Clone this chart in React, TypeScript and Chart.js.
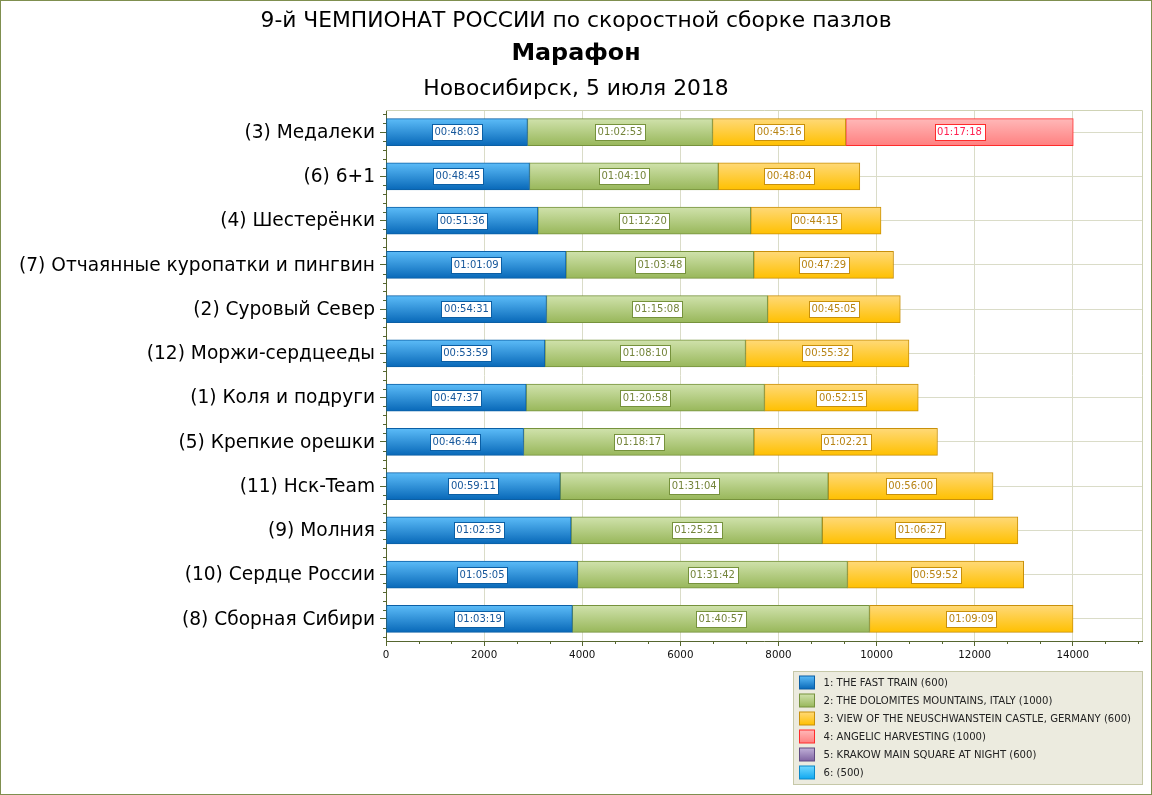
import { useEffect, useRef } from "react";
import { Chart, registerables } from "chart.js";

Chart.register(...registerables);

const FONT = "'DejaVu Sans', sans-serif";

const titleLines = [
  "9-й ЧЕМПИОНАТ РОССИИ по скоростной сборке пазлов",
  "Марафон",
  "Новосибирск, 5 июля 2018",
];

const teams = [
  "(3) Медалеки",
  "(6) 6+1",
  "(4) Шестерёнки",
  "(7) Отчаянные куропатки и пингвин",
  "(2) Суровый Север",
  "(12) Моржи-сердцееды",
  "(1) Коля и подруги",
  "(5) Крепкие орешки",
  "(11) Нск-Team",
  "(9) Молния",
  "(10) Сердце России",
  "(8) Сборная Сибири",
];

const seriesNames = [
  "1: THE FAST TRAIN (600)",
  "2: THE DOLOMITES MOUNTAINS, ITALY (1000)",
  "3: VIEW OF THE NEUSCHWANSTEIN CASTLE, GERMANY (600)",
  "4: ANGELIC HARVESTING (1000)",
  "5: KRAKOW MAIN SQUARE AT NIGHT (600)",
  "6: (500)",
];

const stage1Times = ["00:48:03", "00:48:45", "00:51:36", "01:01:09", "00:54:31", "00:53:59", "00:47:37", "00:46:44", "00:59:11", "01:02:53", "01:05:05", "01:03:19"];
const stage2Times = ["01:02:53", "01:04:10", "01:12:20", "01:03:48", "01:15:08", "01:08:10", "01:20:58", "01:18:17", "01:31:04", "01:25:21", "01:31:42", "01:40:57"];
const stage3Times = ["00:45:16", "00:48:04", "00:44:15", "00:47:29", "00:45:05", "00:55:32", "00:52:15", "01:02:21", "00:56:00", "01:06:27", "00:59:52", "01:09:09"];
const stage4Times = ["01:17:18", null, null, null, null, null, null, null, null, null, null, null];
const stage5Times: (string | null)[] = [null, null, null, null, null, null, null, null, null, null, null, null];
const stage6Times: (string | null)[] = [null, null, null, null, null, null, null, null, null, null, null, null];

const xMax = 15411;
const xTickValues = [0, 2000, 4000, 6000, 8000, 10000, 12000, 14000];
const xMinorPerMajor = 3;

const stageTimes = [stage1Times, stage2Times, stage3Times, stage4Times, stage5Times, stage6Times];

const styles = [
  { top: "#5cbcf8", bottom: "#0868b8", border: "#0b5fa5", text: "#15569a" },
  { top: "#d0e2ac", bottom: "#98b75a", border: "#76923c", text: "#74843a" },
  { top: "#ffd978", bottom: "#ffc000", border: "#c8900a", text: "#b88414" },
  { top: "#ffb8b8", bottom: "#ff8080", border: "#ff2b2b", text: "#ff2050" },
  { top: "#c0b0d8", bottom: "#8064a2", border: "#604a80", text: "#604a80" },
  { top: "#70d8ff", bottom: "#10a8f0", border: "#0a88c8", text: "#0a88c8" },
];

const toSeconds = (t: string | null) => {
  if (!t) return null;
  const [h, m, s] = t.split(":").map(Number);
  return h * 3600 + m * 60 + s;
};

const BAR = 27;
const AXIS = "#56662f";
const GRID = "#dadcc8";

const decorPlugin = {
  id: "decor",
  beforeDraw(chart: any) {
    const { ctx, width, height } = chart;
    ctx.save();
    ctx.fillStyle = "#ffffff";
    ctx.fillRect(0, 0, width, height);
    ctx.restore();
  },
  afterDraw(chart: any) {
    const { ctx, width, height, chartArea } = chart;
    ctx.save();
    ctx.strokeStyle = "#cfd3b5";
    ctx.lineWidth = 1;
    ctx.beginPath();
    ctx.moveTo(chartArea.left, chartArea.top + 0.5);
    ctx.lineTo(chartArea.right + 0.5, chartArea.top + 0.5);
    ctx.lineTo(chartArea.right + 0.5, chartArea.bottom);
    ctx.stroke();

    const xs = chart.scales.x;
    const ys = chart.scales.y;
    ctx.strokeStyle = AXIS;
    ctx.beginPath();
    const majorStep = xTickValues[1] - xTickValues[0];
    for (let k = 0; ; k++) {
      const v = (k * majorStep) / xMinorPerMajor;
      if (v > xMax) break;
      if (k % xMinorPerMajor === 0 && v <= xTickValues[xTickValues.length - 1]) continue;
      const px = Math.round(xs.getPixelForValue(v)) + 0.5;
      ctx.moveTo(px, chartArea.bottom);
      ctx.lineTo(px, chartArea.bottom + 3);
    }
    const spacing = ys.getPixelForValue(1) - ys.getPixelForValue(0);
    const first = ys.getPixelForValue(0);
    for (let k = -5; ; k++) {
      const py = first + (k * spacing) / 5;
      if (py > chartArea.bottom + 0.5) break;
      if (py < chartArea.top - 0.5) continue;
      if (((k % 5) + 5) % 5 === 0) continue;
      const y = Math.round(py) + 0.5;
      ctx.moveTo(chartArea.left - 3, y);
      ctx.lineTo(chartArea.left, y);
    }
    ctx.stroke();

    ctx.fillStyle = "#000";
    ctx.textAlign = "center";
    ctx.textBaseline = "middle";
    ctx.font = `21.8px ${FONT}`;
    ctx.fillText(titleLines[0], width / 2, 21);
    ctx.font = `bold 23.8px ${FONT}`;
    ctx.fillText(titleLines[1], width / 2, 54);
    ctx.font = `21.8px ${FONT}`;
    ctx.fillText(titleLines[2], width / 2, 89);

    const lw = 349;
    const lh = 113;
    const lx = Math.round(chartArea.right) - lw + 0.5;
    const ly = 671.5;
    ctx.fillStyle = "#ecebdf";
    ctx.fillRect(lx, ly, lw, lh);
    ctx.strokeStyle = "#c6c8a8";
    ctx.strokeRect(lx, ly, lw, lh);
    ctx.textAlign = "left";
    ctx.font = `10.1px ${FONT}`;
    chart.data.datasets.forEach((ds: any, i: number) => {
      const st = styles[i];
      const cy = ly + 11 + i * 18;
      const sx = lx + 6;
      const sy = cy - 6.5;
      const g = ctx.createLinearGradient(0, sy, 0, sy + 13);
      g.addColorStop(0, st.top);
      g.addColorStop(1, st.bottom);
      ctx.fillStyle = g;
      ctx.fillRect(sx, sy, 15, 13);
      ctx.strokeStyle = st.border;
      ctx.strokeRect(sx, sy, 15, 13);
      ctx.fillStyle = "#222";
      ctx.fillText(ds.label, sx + 24, cy + 0.5);
    });

    ctx.strokeStyle = "#7f8f4f";
    ctx.lineWidth = 1;
    ctx.strokeRect(0.5, 0.5, width - 1, height - 1);
    ctx.restore();
  },
  afterDatasetsDraw(chart: any) {
    const { ctx } = chart;
    ctx.save();
    ctx.font = `10px ${FONT}`;
    ctx.textAlign = "center";
    ctx.textBaseline = "middle";
    chart.data.datasets.forEach((ds: any, i: number) => {
      const meta = chart.getDatasetMeta(i);
      const st = styles[i];
      meta.data.forEach((el: any, j: number) => {
        const txt = stageTimes[i][j];
        if (!txt) return;
        const { x, y, base } = el.getProps(["x", "y", "base"], true);
        const cx = (x + base) / 2;
        const w = Math.round(ctx.measureText(txt).width + 5);
        const h = 16;
        const bx = Math.round(cx - w / 2) + 0.5;
        const by = Math.round(y - h / 2) + 0.5;
        ctx.fillStyle = "#ffffff";
        ctx.fillRect(bx, by, w, h);
        ctx.strokeStyle = st.border;
        ctx.lineWidth = 1;
        ctx.strokeRect(bx, by, w, h);
        ctx.fillStyle = st.text;
        ctx.fillText(txt, cx, y + 0.5);
      });
    });
    ctx.restore();
  },
};

export default function App() {
  const ref = useRef<HTMLCanvasElement | null>(null);

  useEffect(() => {
    if (!ref.current) return;
    Chart.defaults.font.family = FONT;
    const datasets = stageTimes.map((times, i) => ({
      label: seriesNames[i],
      data: times.map(toSeconds),
      stack: "s",
      barThickness: BAR,
      borderWidth: 1,
      borderSkipped: false,
      borderColor: styles[i].border,
      backgroundColor: (c: any) => {
        const chart = c.chart;
        const ys = chart.scales && chart.scales.y;
        if (!ys || c.type !== "data" || !chart.ctx) return styles[i].bottom;
        const cy = ys.getPixelForValue(c.dataIndex);
        if (!isFinite(cy)) return styles[i].bottom;
        const g = chart.ctx.createLinearGradient(0, cy - BAR / 2, 0, cy + BAR / 2);
        g.addColorStop(0, styles[i].top);
        g.addColorStop(1, styles[i].bottom);
        return g;
      },
    }));

    const chart = new Chart(ref.current, {
      type: "bar",
      data: { labels: teams, datasets },
      plugins: [decorPlugin],
      options: {
        animation: false,
        responsive: false,
        devicePixelRatio: 1,
        indexAxis: "y",
        layout: { padding: { top: 110, right: 10, bottom: 124, left: 0 } },
        plugins: {
          legend: { display: false },
          tooltip: { enabled: false },
          title: { display: false },
        },
        scales: {
          x: {
            stacked: true,
            min: 0,
            max: xMax,
            afterBuildTicks: (s: any) => {
              s.ticks = xTickValues.map((v) => ({ value: v }));
            },
            afterFit: (s: any) => {
              s.height = 30;
              s.paddingRight = 0;
            },
            ticks: {
              color: "#111",
              font: { size: 10.3, family: FONT },
              padding: 3,
              maxRotation: 0,
              autoSkip: false,
              callback: (v: any) => String(v),
            },
            grid: {
              color: GRID,
              tickColor: AXIS,
              tickLength: 5,
              lineWidth: 1,
            },
            border: { color: AXIS, width: 1 },
          },
          y: {
            stacked: true,
            afterFit: (s: any) => {
              s.width = 386;
            },
            ticks: {
              color: "#000",
              font: { size: 18.6, family: FONT },
              padding: 5,
              labelOffset: 1,
            },
            grid: {
              offset: false,
              color: GRID,
              tickColor: AXIS,
              tickLength: 6,
              lineWidth: 1,
            },
            border: { color: AXIS, width: 1 },
          },
        },
      },
    } as any);
    return () => chart.destroy();
  }, []);

  return (
    <div style={{ position: "absolute", left: 0, top: 0, width: 1152, height: 795 }}>
      <canvas ref={ref} width={1152} height={795} style={{ display: "block" }} />
    </div>
  );
}
